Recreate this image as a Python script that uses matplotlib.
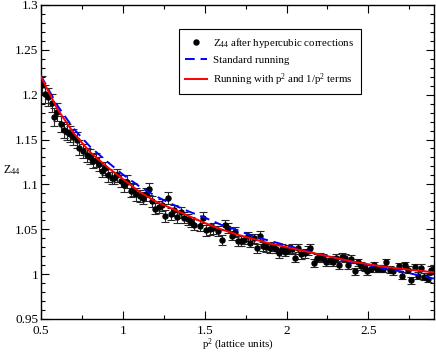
import numpy as np
import matplotlib
matplotlib.use("Agg")
import matplotlib.pyplot as plt
from matplotlib.ticker import MultipleLocator

plt.rcParams['font.family'] = ['Liberation Serif', 'DejaVu Serif']
plt.rcParams['mathtext.default'] = 'regular'

# data points: p^2, Z44, error
p2 = [0.506, 0.524, 0.545, 0.565, 0.582, 0.600, 0.620, 0.641, 0.661, 0.679,
      0.698, 0.718, 0.735, 0.757, 0.780, 0.798, 0.816, 0.837, 0.853, 0.871,
      0.892, 0.910, 0.933, 0.949, 0.967, 0.988, 1.008, 1.024, 1.051, 1.065,
      1.081, 1.104, 1.126, 1.143, 1.161, 1.177, 1.198, 1.218, 1.239, 1.259,
      1.279, 1.296, 1.314, 1.334, 1.355, 1.375, 1.396, 1.416, 1.436, 1.469,
      1.489, 1.510, 1.530, 1.551, 1.583, 1.603, 1.624, 1.644, 1.665, 1.685,
      1.706, 1.722, 1.742, 1.763, 1.779, 1.799, 1.820, 1.836, 1.857, 1.877,
      1.897, 1.918, 1.934, 1.955, 1.975, 1.991, 2.012, 2.032, 2.053, 2.069,
      2.089, 2.110, 2.130, 2.146, 2.165, 2.185, 2.206, 2.226, 2.242, 2.263,
      2.283, 2.303, 2.320, 2.340, 2.358, 2.375, 2.395, 2.416, 2.436, 2.457,
      2.477, 2.493, 2.514, 2.534, 2.555, 2.575, 2.591, 2.609, 2.630, 2.650,
      2.685, 2.705, 2.726, 2.742, 2.763, 2.783, 2.803, 2.822, 2.842, 2.862,
      2.882, 2.899]
z44 = [1.211, 1.201, 1.197, 1.191, 1.175, 1.181, 1.167, 1.161, 1.158, 1.156,
       1.153, 1.149, 1.141, 1.137, 1.133, 1.131, 1.126, 1.127, 1.123, 1.115,
       1.118, 1.110, 1.107, 1.107, 1.110, 1.104, 1.099, 1.103, 1.093, 1.094,
       1.089, 1.087, 1.085, 1.089, 1.095, 1.081, 1.073, 1.075, 1.077, 1.065,
       1.085, 1.067, 1.071, 1.064, 1.069, 1.063, 1.061, 1.058, 1.055, 1.054,
       1.063, 1.049, 1.050, 1.051, 1.048, 1.038, 1.055, 1.051, 1.043, 1.047,
       1.037, 1.037, 1.038, 1.042, 1.035, 1.040, 1.029, 1.043, 1.031, 1.030,
       1.029, 1.031, 1.028, 1.023, 1.028, 1.025, 1.027, 1.028, 1.018, 1.029,
       1.022, 1.023, 1.026, 1.029, 1.012, 1.018, 1.019, 1.018, 1.013, 1.016,
       1.013, 1.018, 1.010, 1.019, 1.018, 1.010, 1.017, 1.003, 1.013, 1.009,
       1.007, 1.003, 1.006, 1.010, 1.006, 1.006, 1.006, 1.013, 1.005, 1.003,
       1.009, 0.998, 1.010, 1.005, 0.993, 1.008, 0.998, 1.007, 0.997, 0.995,
       1.005, 1.006]
z44_err = [0.010, 0.010, 0.010, 0.010, 0.010, 0.010, 0.009, 0.009, 0.009, 0.009,
           0.009, 0.009, 0.008, 0.008, 0.008, 0.008, 0.008, 0.008, 0.008, 0.007,
           0.007, 0.007, 0.007, 0.007, 0.007, 0.007, 0.007, 0.007, 0.007, 0.007,
           0.007, 0.007, 0.007, 0.007, 0.007, 0.0065, 0.0065, 0.0065, 0.0065, 0.0065,
           0.0065, 0.0065, 0.0065, 0.0065, 0.006, 0.006, 0.006, 0.006, 0.006, 0.006,
           0.006, 0.006, 0.006, 0.006, 0.0055, 0.0055, 0.0055, 0.0055, 0.0055, 0.0055,
           0.0055, 0.0055, 0.005, 0.005, 0.005, 0.005, 0.005, 0.005, 0.005, 0.005,
           0.005, 0.005, 0.005, 0.005, 0.005, 0.005, 0.005, 0.005, 0.0048, 0.0048,
           0.0048, 0.0048, 0.0048, 0.0048, 0.0045, 0.0045, 0.0045, 0.0045, 0.0045, 0.0045,
           0.0045, 0.0045, 0.0042, 0.0042, 0.0042, 0.0042, 0.0042, 0.0042, 0.004, 0.004,
           0.004, 0.004, 0.004, 0.004, 0.004, 0.004, 0.004, 0.004, 0.004, 0.004,
           0.0038, 0.0038, 0.0038, 0.0038, 0.0038, 0.0038, 0.0038, 0.0038, 0.0038, 0.0038,
           0.0038, 0.0038]

# fit curves
fit_p2 = [0.5, 0.6, 0.7, 0.8, 0.9, 1.0, 1.1, 1.2, 1.3, 1.4, 1.5, 1.6, 1.7,
          1.8, 1.9, 2.0, 2.1, 2.2, 2.3, 2.4, 2.5, 2.6, 2.7, 2.8, 2.9]
standard = [1.221, 1.188, 1.162, 1.142, 1.126, 1.111, 1.098, 1.087, 1.078,
            1.070, 1.063, 1.055, 1.049, 1.042, 1.037, 1.032, 1.027, 1.022,
            1.018, 1.013, 1.010, 1.006, 1.003, 0.999, 0.995]
running_pp = [1.220, 1.184, 1.157, 1.136, 1.120, 1.106, 1.092, 1.081, 1.073,
              1.065, 1.057, 1.050, 1.044, 1.039, 1.034, 1.030, 1.026, 1.022,
              1.018, 1.014, 1.011, 1.008, 1.006, 1.004, 1.002]

fig = plt.figure(figsize=(4.36, 3.54), dpi=100)
ax = fig.add_axes([0.094, 0.099, 0.901, 0.887])

ax.errorbar(p2, z44, yerr=z44_err, fmt='none', ecolor='0.15', elinewidth=0.8,
            capsize=2.8, capthick=0.8, zorder=2)
pts, = ax.plot(p2, z44, 'o', color='black', markersize=3.6, zorder=3,
               label='Z$_{44}$ after hypercubic corrections')
l1, = ax.plot(fit_p2, standard, '--', color='#0000ff', lw=1.4, dashes=(5, 3),
              zorder=4, label='Standard running')
l2, = ax.plot(fit_p2, running_pp, '-', color='#ff0000', lw=1.4, zorder=5,
              label='Running with p$^2$ and 1/p$^2$ terms')

ax.set_xlim(0.5, 2.9)
ax.set_ylim(0.95, 1.3)
ax.xaxis.set_major_locator(MultipleLocator(0.5))
ax.xaxis.set_minor_locator(MultipleLocator(0.25))
ax.yaxis.set_major_locator(MultipleLocator(0.05))
ax.yaxis.set_minor_locator(MultipleLocator(0.01))
ax.set_xticks([0.5, 1, 1.5, 2, 2.5])
ax.set_xticklabels(['0.5', '1', '1.5', '2', '2.5'])
ax.set_yticks([0.95, 1.0, 1.05, 1.1, 1.15, 1.2, 1.25, 1.3])
ax.set_yticklabels(['0.95', '1', '1.05', '1.1', '1.15', '1.2', '1.25', '1.3'])
ax.tick_params(which='both', direction='in', top=True, right=True,
               labelsize=9.5, width=0.8)
ax.tick_params(axis='y', pad=2)
ax.tick_params(axis='x', pad=4)
ax.tick_params(which='major', length=6)
ax.tick_params(which='minor', length=3)
for s in ax.spines.values():
    s.set_linewidth(1.0)

ax.set_xlabel('p$^2$ (lattice units)', fontsize=7.8, labelpad=0)
fig.text(0.008, 0.52, 'Z$_{44}$', fontsize=8.5, ha='left', va='center')

leg = ax.legend(handles=[pts, l1, l2], loc='upper left',
                bbox_to_anchor=(0.337, 0.94), fontsize=7.8, frameon=True,
                fancybox=False, edgecolor='black', framealpha=1,
                handlelength=2.0, labelspacing=0.55, borderpad=0.6,
                handletextpad=0.6)
leg.get_frame().set_linewidth(0.8)

fig.savefig('out.png', dpi=100)
